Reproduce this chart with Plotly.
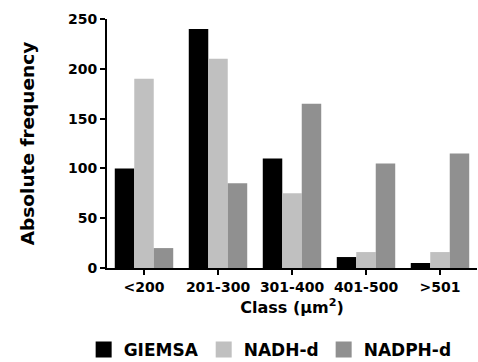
import plotly.graph_objects as go

categories = ["<200", "201-300", "301-400", "401-500", ">501"]
giemsa = [100, 240, 110, 11, 5]
nadh = [190, 210, 75, 16, 16]
nadph = [20, 85, 165, 105, 115]
series_names = ["GIEMSA", "NADH-d", "NADPH-d"]
colors = ["#000000", "#c0c0c0", "#909090"]
y_ticks = [0, 50, 100, 150, 200, 250]

FONT = "DejaVu Sans"

fig = go.Figure()
for name, vals, col in zip(series_names, [giemsa, nadh, nadph], colors):
    fig.add_trace(go.Bar(x=categories, y=vals, name=name, marker_color=col,
                         marker_line_width=0, showlegend=False))
# legend entries with larger square swatches
for name, col in zip(series_names, colors):
    fig.add_trace(go.Scatter(x=[None], y=[None], mode="markers", name=name,
                             marker=dict(symbol="square", size=16, color=col)))

fig.update_layout(
    width=478, height=362,
    margin=dict(l=107, r=1, t=19, b=94, autoexpand=False),
    paper_bgcolor="white", plot_bgcolor="white",
    barmode="group", bargap=0.21, bargroupgap=0,
    font=dict(family=FONT, color="black"),
    showlegend=True,
    legend=dict(orientation="h", xref="container", yref="container",
                x=0.175, xanchor="left", y=0.033, yanchor="middle",
                font=dict(family=FONT, size=17, color="black", weight="bold"),
                itemsizing="trace", bgcolor="rgba(0,0,0,0)"),
)
fig.update_xaxes(
    type="category", range=[-0.5, 4.5], automargin=False,
    showline=True, linecolor="black", linewidth=2,
    ticks="outside", ticklen=5, tickwidth=2, tickcolor="black",
    showgrid=False, zeroline=False,
    tickfont=dict(family=FONT, size=14, color="black", weight="bold"),
    title=dict(text="Class (μm<sup>2</sup>)", standoff=8,
               font=dict(family=FONT, size=16, color="black", weight="bold")),
)
fig.update_yaxes(
    range=[0, 250], tickvals=y_ticks, automargin=False,
    showline=True, linecolor="black", linewidth=2,
    ticks="outside", ticklen=5, tickwidth=2, tickcolor="black",
    showgrid=False, zeroline=False,
    tickfont=dict(family=FONT, size=14, color="black", weight="bold"),
    title=dict(text="Absolute frequency", standoff=28,
               font=dict(family=FONT, size=18.5, color="black", weight="bold")),
)

fig.write_html("out.html", config={"displayModeBar": False},
               post_script="document.body.style.margin='0px';")
